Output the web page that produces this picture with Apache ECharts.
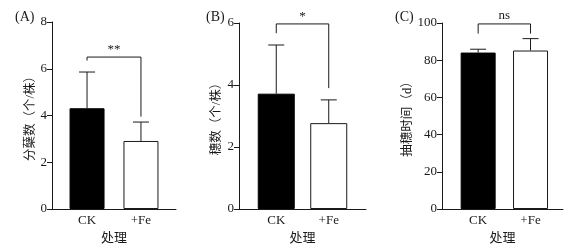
<!DOCTYPE html>
<html>
<head>
<meta charset="utf-8">
<script src="https://cdn.jsdelivr.net/npm/echarts@6/dist/echarts.min.js"></script>
<style>html,body{margin:0;padding:0;background:#fff}#c{width:575px;height:251px}</style>
</head>
<body>
<div id="c"></div>
<script>
const categories = ['CK', '+Fe'];
const catPos = [1, 2];
const tillerMean = [4.31, 2.91];
const tillerSD = [1.55, 0.81];
const panicleMean = [3.72, 2.77];
const panicleSD = [1.57, 0.75];
const headingMean = [84.1, 85.2];
const headingSD = [1.8, 6.4];
const bracketTop = [6.5, 5.97, 99.5];
const bracketLeftEnd = [6.35, 5.67, 94.3];
const bracketRightEnd = [3.95, 3.9, 94.3];
const sigLabels = ['**', '*', 'ns'];
const panelLabels = ['(A)', '(B)', '(C)'];
const yNames = ['分蘖数（个/株）', '穗数（个/株）', '抽穗时间（d）'];
const xName = '处理';
const yMax = [8, 6, 100];
const yInterval = [2, 2, 20];

const FONT = '"Liberation Serif", "Noto Sans CJK SC", serif';
const INK = '#1a1a1a';
const means = [tillerMean, panicleMean, headingMean];
const sds = [tillerSD, panicleSD, headingSD];
const grids = [
  {left: 52, top: 22, width: 124, height: 187},
  {left: 239, top: 23, width: 127, height: 186},
  {left: 442, top: 23, width: 121, height: 186}
];
const xRanges = [[0.35, 2.65], [0.29, 2.71], [0.31, 2.62]];
const barWidths = [35, 37, 35];
const nameGaps = [15, 16, 28];

const option = {
  animation: false,
  title: panelLabels.map((t, i) => ({
    text: t, left: [15, 206, 395][i], top: 10, padding: 0,
    textStyle: {fontFamily: FONT, fontSize: 14, fontWeight: 'normal', color: INK}
  })),
  grid: grids,
  xAxis: grids.map((g, i) => ({
    type: 'value', gridIndex: i, min: xRanges[i][0], max: xRanges[i][1],
    name: xName, nameLocation: 'middle', nameGap: 20,
    nameTextStyle: {fontFamily: FONT, fontSize: 13, color: INK},
    axisLine: {lineStyle: {color: INK, width: 1}},
    axisTick: {show: false},
    splitLine: {show: false},
    axisLabel: {
      customValues: catPos, fontFamily: FONT, fontSize: 13, color: INK, margin: 5,
      formatter: v => categories[catPos.indexOf(v)] || ''
    }
  })),
  yAxis: grids.map((g, i) => ({
    type: 'value', gridIndex: i, min: 0, max: yMax[i], interval: yInterval[i],
    name: yNames[i], nameLocation: 'middle', nameGap: nameGaps[i],
    nameTextStyle: {fontFamily: FONT, fontSize: 12.5, color: INK},
    axisLine: {show: true, lineStyle: {color: INK, width: 1}},
    axisTick: {show: true, length: 5, lineStyle: {color: INK}},
    splitLine: {show: false},
    axisLabel: {fontFamily: FONT, fontSize: 13, color: INK, margin: 5}
  })),
  series: []
};

for (let i = 0; i < 3; i++) {
  option.series.push({
    type: 'bar', xAxisIndex: i, yAxisIndex: i, barWidth: barWidths[i],
    data: catPos.map((x, k) => ({
      value: [x, means[i][k]],
      itemStyle: k === 0 ? {color: '#000', borderColor: '#000', borderWidth: 1}
                         : {color: '#fff', borderColor: INK, borderWidth: 1}
    }))
  });
  option.series.push({
    type: 'custom', xAxisIndex: i, yAxisIndex: i, clip: false, z: 1,
    data: catPos.map((x, k) => [x, means[i][k], sds[i][k]]),
    renderItem: (params, api) => {
      const x = api.value(0), m = api.value(1), s = api.value(2);
      const p0 = api.coord([x, m]);
      const p1 = api.coord([x, m + s]);
      const st = {stroke: INK, lineWidth: 1, fill: null};
      return {type: 'group', children: [
        {type: 'line', shape: {x1: p0[0], y1: p0[1], x2: p1[0], y2: p1[1]}, style: st},
        {type: 'line', shape: {x1: p1[0] - 8, y1: p1[1], x2: p1[0] + 8, y2: p1[1]}, style: st}
      ]};
    }
  });
  option.series.push({
    type: 'custom', xAxisIndex: i, yAxisIndex: i, clip: false,
    data: [[catPos[0], catPos[1], bracketTop[i], bracketLeftEnd[i], bracketRightEnd[i]]],
    renderItem: (params, api) => {
      const x1 = api.value(0), x2 = api.value(1), t = api.value(2), l = api.value(3), r = api.value(4);
      const a = api.coord([x1, l]), b = api.coord([x1, t]), c = api.coord([x2, t]), d = api.coord([x2, r]);
      return {type: 'group', children: [
        {type: 'polyline', shape: {points: [a, b, c, d]}, style: {stroke: INK, lineWidth: 1, fill: null}},
        {type: 'text', style: {
          text: sigLabels[i], x: (b[0] + c[0]) / 2, y: b[1] - (sigLabels[i] === 'ns' ? 2 : 1),
          align: 'center', verticalAlign: 'bottom', fill: INK,
          font: '13px ' + FONT
        }}
      ]};
    }
  });
}

const chart = echarts.init(document.getElementById('c'), null, {renderer: 'canvas'});
chart.setOption(option);
</script>
</body>
</html>
